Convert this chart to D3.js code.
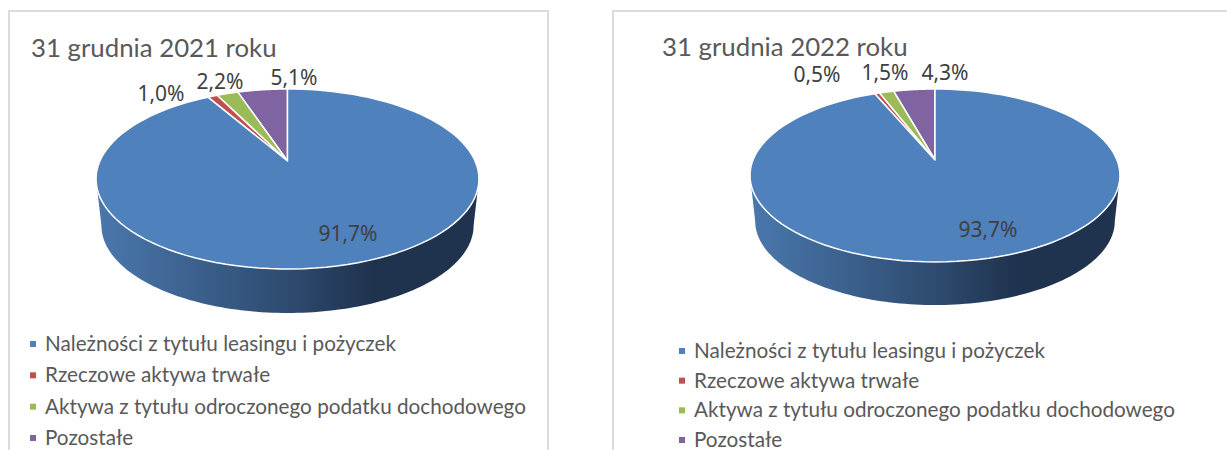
<!DOCTYPE html>
<html>
<head>
<meta charset="utf-8">
<script src="https://cdn.jsdelivr.net/npm/d3@7"></script>
<style>
  html, body { margin: 0; padding: 0; background: #fff; overflow: hidden; }
  text { font-family: "Lato", sans-serif; }
  text.label { font-family: "Noto Sans", sans-serif; }
</style>
</head>
<body>
<script>
const categories = [
  "Należności z tytułu leasingu i pożyczek",
  "Rzeczowe aktywa trwałe",
  "Aktywa z tytułu odroczonego podatku dochodowego",
  "Pozostałe",
];
const colors = ["#4f81bd", "#c0504d", "#9bbb59", "#8064a2"];
const values2021 = [91.7, 1.0, 2.2, 5.1];
const values2022 = [93.7, 0.5, 1.5, 4.3];
const titles = ["31 grudnia 2021 roku", "31 grudnia 2022 roku"];

const width = 1227;
const height = 450;

const svg = d3
  .select("body")
  .append("svg")
  .attr("width", width)
  .attr("height", height)
  .style("display", "block");

const defs = svg.append("defs");

const percent = (v) => v.toFixed(1).replace(".", ",") + "%";

// rim of the pie: a circle seen in perspective, so the centre sits above the middle of the ellipse
const projector = ({ cx, cy, s, k, a }) => (angle) => {
  const u = Math.sin(angle);
  const v = Math.cos(angle);
  const w = 1 + a * v;
  return [cx + (s * u) / w, cy - (k * v) / w];
};

const vizPie = (cfg) => {
  const g = svg.append("g");

  g.append("rect")
    .attr("x", cfg.frame[0])
    .attr("y", cfg.frame[1])
    .attr("width", cfg.frame[2])
    .attr("height", cfg.frame[3])
    .attr("fill", "#fff")
    .attr("stroke", "#dcdcdc")
    .attr("stroke-width", 2);

  g.append("text")
    .attr("x", cfg.titleX)
    .attr("y", cfg.titleY)
    .attr("font-size", 25.8)
    .attr("fill", "#595959")
    .text(cfg.title);

  const project = projector(cfg);
  const line = d3.line();
  const arcs = d3.pie().sort(null).value((d) => d)(cfg.values.slice().reverse());
  // pie runs counter-clockwise from the top in the source, blue ends the circle
  const slices = arcs.map((d, i) => ({
    ...d,
    color: colors[colors.length - 1 - i],
    startAngle: -d.endAngle,
    endAngle: -d.startAngle,
  }));

  const rimPoints = (a0, a1) =>
    d3.range(0, 121).map((i) => project(a0 + ((a1 - a0) * i) / 120));

  // side wall, between the two widest points of the rim
  const gradId = `wall-${cfg.id}`;
  const grad = defs
    .append("linearGradient")
    .attr("id", gradId)
    .attr("gradientUnits", "userSpaceOnUse")
    .attr("x1", cfg.cx - cfg.wallW)
    .attr("x2", cfg.cx + cfg.wallW)
    .attr("y1", 0)
    .attr("y2", 0);
  grad.append("stop").attr("offset", "0").attr("stop-color", "#4a78ad");
  grad.append("stop").attr("offset", "0.5").attr("stop-color", "#2e4b70");
  grad.append("stop").attr("offset", "0.72").attr("stop-color", "#1f334e");
  grad.append("stop").attr("offset", "1").attr("stop-color", "#1f334e");

  const widest = Math.acos(-cfg.a);
  const front = rimPoints(widest, 2 * Math.PI - widest);
  const bottom = front
    .map(([x, y]) => [
      cfg.cx + (x - cfg.cx) * cfg.shrink,
      cfg.ey + (y - cfg.ey) * cfg.shrink + cfg.depth,
    ])
    .reverse();
  g.append("path")
    .attr("d", line(front.concat(bottom)) + "Z")
    .attr("fill", `url(#${gradId})`);

  g.selectAll("path.slice")
    .data(slices)
    .enter()
    .append("path")
    .attr("class", "slice")
    .attr("d", (d) => {
      const apex = [cfg.cx, cfg.cy];
      return line([apex, ...rimPoints(d.startAngle, d.endAngle)]) + "Z";
    })
    .attr("fill", (d) => d.color)
    .attr("stroke", "#fff")
    .attr("stroke-width", 1.5)
    .attr("stroke-linejoin", "round");

  g.selectAll("text.label")
    .data(cfg.values)
    .enter()
    .append("text")
    .attr("class", "label")
    .attr("x", (d, i) => cfg.labels[i][0])
    .attr("y", (d, i) => cfg.labels[i][1])
    .attr("text-anchor", "middle")
    .attr("font-size", 21)
    .attr("fill", "#404040")
    .text(percent);

  const legendY = d3
    .scalePoint()
    .domain(categories)
    .range(cfg.legendRange);

  const legend = g
    .selectAll("g.legend")
    .data(categories)
    .enter()
    .append("g")
    .attr("class", "legend")
    .attr("transform", (d) => `translate(${cfg.legendX} ${legendY(d)})`);

  legend
    .append("rect")
    .attr("x", 0)
    .attr("y", -10)
    .attr("width", 6)
    .attr("height", 6)
    .attr("fill", (d, i) => colors[i]);

  legend
    .append("text")
    .attr("x", 15)
    .attr("y", 0)
    .attr("font-size", 20.7)
    .attr("fill", "#595959")
    .text((d) => d);
};

vizPie({
  id: "a",
  frame: [9, 11, 539, 460],
  title: titles[0],
  titleX: 31,
  titleY: 57,
  values: values2021,
  cx: 287.5,
  cy: 161,
  ey: 179,
  s: 187.6,
  k: 86.4,
  a: 0.2,
  depth: 46.5,
  shrink: 0.972,
  wallW: 192,
  labels: [[348, 241], [161, 101], [220, 89], [294, 85]],
  legendX: 30,
  legendRange: [351, 445],
});

vizPie({
  id: "b",
  frame: [613, 11, 640, 460],
  title: titles[1],
  titleX: 662,
  titleY: 56,
  values: values2022,
  cx: 935,
  cy: 160,
  ey: 175,
  s: 182,
  k: 83.7,
  a: 0.179,
  depth: 45.5,
  shrink: 0.972,
  wallW: 185,
  labels: [[988, 237], [817, 82], [885, 80], [945, 80]],
  legendX: 679,
  legendRange: [358, 447],
});
</script>
</body>
</html>
